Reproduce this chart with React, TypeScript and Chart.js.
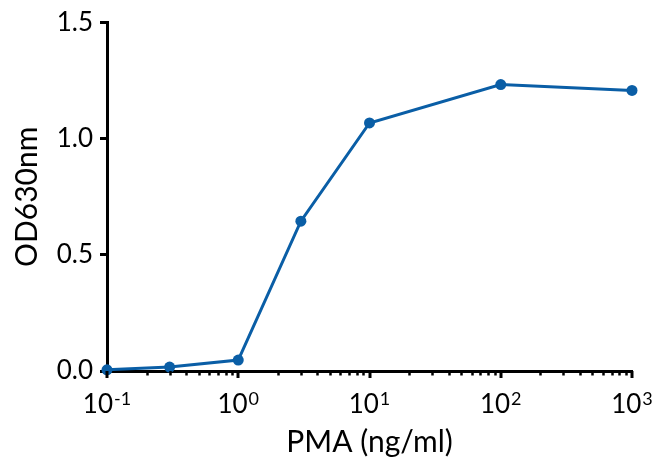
import React, { useEffect, useRef } from "react";
import { Chart, registerables } from "chart.js";

Chart.register(...registerables);

const doses = [0.1, 0.3, 1, 3, 10, 100, 1000];
const od630 = [0.005, 0.017, 0.047, 0.645, 1.068, 1.233, 1.208];
const xExponents = [-1, 0, 1, 2, 3];
const yTicks = [0, 0.5, 1.0, 1.5];

const FONT = "Lato, 'Open Sans', sans-serif";
const LINE_COLOR = "#0a5ea6";

const xAxisDeco = {
  id: "xAxisDeco",
  afterDraw(chart: any) {
    const ctx = chart.ctx as CanvasRenderingContext2D;
    const xs = chart.scales.x;
    const y0 = chart.chartArea.bottom;
    ctx.save();
    ctx.strokeStyle = "#000";
    ctx.lineCap = "butt";
    const minE = xExponents[0];
    const maxE = xExponents[xExponents.length - 1];
    for (let e = minE; e <= maxE; e++) {
      const mMax = e === maxE ? 1 : 9;
      for (let m = 1; m <= mMax; m++) {
        const v = m * Math.pow(10, e);
        const px = Math.round(xs.getPixelForValue(v)) + 0.5;
        const major = m === 1;
        ctx.lineWidth = major ? 3 : 2.5;
        ctx.beginPath();
        ctx.moveTo(major ? px - 0.5 : px, y0);
        ctx.lineTo(major ? px - 0.5 : px, y0 + (major ? 7 : 4.5));
        ctx.stroke();
      }
    }
    // labels 10^e
    ctx.fillStyle = "#000";
    ctx.textBaseline = "alphabetic";
    ctx.textAlign = "left";
    const baseFont = `26px ${FONT}`;
    const supFont = `18px ${FONT}`;
    for (const e of xExponents) {
      const px = xs.getPixelForValue(Math.pow(10, e));
      ctx.font = baseFont;
      const wb = ctx.measureText("10").width;
      ctx.font = supFont;
      const sup = e < 0 ? "-" + Math.abs(e) : String(e);
      const ws = ctx.measureText(sup).width;
      const total = wb + 1 + ws;
      const x0 = px - total / 2;
      ctx.font = baseFont;
      ctx.fillText("10", x0, y0 + 42);
      ctx.font = supFont;
      ctx.fillText(sup, x0 + wb + 1, y0 + 34);
    }
    ctx.restore();
  },
};

export default function App() {
  const ref = useRef<HTMLCanvasElement>(null);
  useEffect(() => {
    document.body.style.margin = "0";
    const canvas = ref.current!;
    const chart = new Chart(canvas, {
      type: "line",
      data: {
        datasets: [
          {
            data: doses.map((x, i) => ({ x, y: od630[i] })),
            borderColor: LINE_COLOR,
            backgroundColor: LINE_COLOR,
            borderWidth: 3,
            pointRadius: 5.5,
            pointHoverRadius: 5.5,
            pointBackgroundColor: LINE_COLOR,
            pointBorderColor: LINE_COLOR,
            pointBorderWidth: 0,
            tension: 0,
            clip: false as any,
          },
        ],
      },
      options: {
        animation: false,
        responsive: false,
        maintainAspectRatio: false,
        devicePixelRatio: 1,
        layout: { padding: { top: 20, right: 25, left: 0, bottom: 0 } },
        plugins: {
          legend: { display: false },
          tooltip: { enabled: false },
        },
        scales: {
          x: {
            type: "logarithmic",
            position: "bottom",
            min: Math.pow(10, xExponents[0]),
            max: Math.pow(10, xExponents[xExponents.length - 1]),
            grid: { display: false },
            ticks: { display: false },
            border: { display: true, color: "#000", width: 3 },
            title: {
              display: true,
              text: "PMA (ng/ml)",
              color: "#000",
              font: { family: FONT, size: 30 },
              padding: { top: 0, bottom: 4 },
            },
            afterFit: (s: any) => {
              s.height = 93;
            },
          },
          y: {
            type: "linear",
            min: yTicks[0],
            max: yTicks[yTicks.length - 1],
            afterBuildTicks: (s: any) => {
              s.ticks = yTicks.map((v) => ({ value: v }));
            },
            ticks: {
              color: "#000",
              font: { family: FONT, size: 26 },
              padding: 7,
              callback: (v: any) => Number(v).toFixed(1),
            },
            grid: {
              drawOnChartArea: false,
              tickLength: 7,
              tickWidth: 3,
              tickColor: "#000",
            },
            border: { display: true, color: "#000", width: 3 },
            title: {
              display: true,
              text: "OD630nm",
              color: "#000",
              font: { family: FONT, size: 30 },
              padding: { top: 9, bottom: 0 },
            },
            afterFit: (s: any) => {
              s.width = 107;
            },
          },
        },
      },
      plugins: [xAxisDeco],
    });
    return () => chart.destroy();
  }, []);
  return (
    <div style={{ width: 657, height: 464 }}>
      <canvas ref={ref} width={657} height={464} />
    </div>
  );
}
